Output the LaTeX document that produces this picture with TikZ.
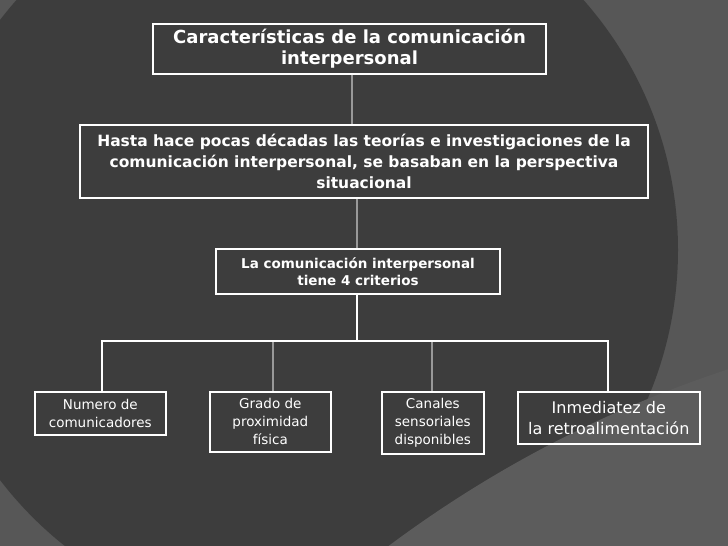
\documentclass[tikz,border=0pt]{standalone}
\usepackage{fontspec}
\setmainfont{DejaVu Sans}
\begin{document}
\begin{tikzpicture}[x=1pt,y=-1pt,
 box/.style={draw=white,line width=1.6pt,text=white,align=center,inner sep=2pt},
 hd/.style={box,font=\bfseries\fontsize{15.5}{21}\selectfont},
 lf/.style={box,anchor=north west},
 ln/.style={white,line width=1.6pt},
 gl/.style={gray!80,line width=1.2pt}]
\useasboundingbox (0,0) rectangle (728,546);
\fill[black!66] (0,0) rectangle (728,546);
\begin{scope}
\clip (0,0) rectangle (728,546);
\fill[black!76] (300,250) circle (378);
\fill[black!64] (1100,1500) circle (1190);
\end{scope}
\node[hd,font=\bfseries\fontsize{18}{21}\selectfont,minimum width=393,minimum height=50] (t) at (349.5,49) {Características de la comunicación\\interpersonal};
\node[hd,minimum width=568,minimum height=73] (h) at (364,161.5) {Hasta hace pocas décadas las teorías e investigaciones de la\\comunicación interpersonal, se basaban en la perspectiva\\situacional};
\node[hd,font=\bfseries\fontsize{13.5}{17}\selectfont,minimum width=284,minimum height=45] (c) at (358,271.5) {La comunicación interpersonal\\tiene 4 criterios};
\node[lf,font=\fontsize{13.5}{18}\selectfont,minimum width=131,minimum height=43] (b1) at (34,391) {Numero de\\comunicadores};
\node[lf,font=\fontsize{13.5}{18}\selectfont,minimum width=121,minimum height=60] (b2) at (209,391) {Grado de\\proximidad\\física};
\node[lf,font=\fontsize{13.5}{18}\selectfont,minimum width=102,minimum height=62] (b3) at (381,391) {Canales\\sensoriales\\disponibles};
\node[lf,font=\fontsize{16}{21}\selectfont,minimum width=182,minimum height=52] (b4) at (517,391) {Inmediatez de\\la retroalimentación};
\coordinate (j) at (357,341);
\coordinate (l) at (102,341);
\coordinate (r) at (608,341);
\draw[gl] (t.south -| 352,0) -- (h.north -| 352,0);
\draw[gl] (h.south -| 357,0) -- (c.north -| 357,0);
\draw[ln] (c.south -| j) -- (j);
\draw[ln] (b1.north -| l) -- (l) -- (r) -- (b4.north -| r);
\draw[gl] (273,342) -- (b2.north -| 273,0);
\draw[gl] (432,342) -- (b3.north -| 432,0);
\end{tikzpicture}
\end{document}
